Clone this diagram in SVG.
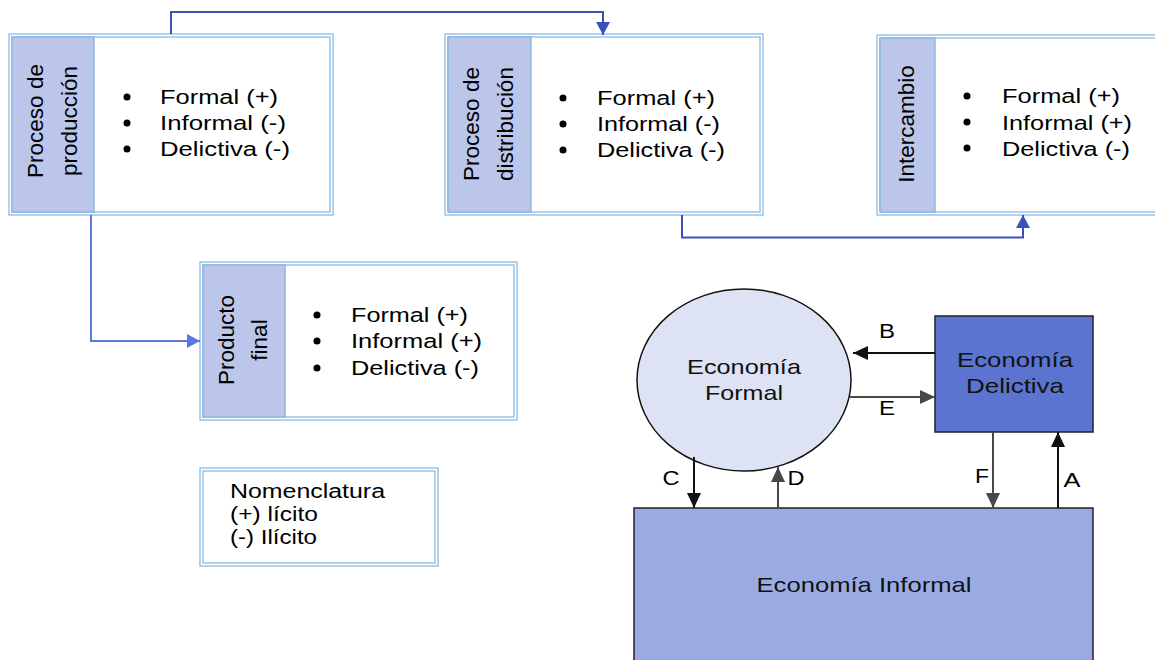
<svg xmlns="http://www.w3.org/2000/svg" width="1155" height="660" viewBox="0 0 1155 660">
<style>
text{font-family:"Liberation Sans",Arial,sans-serif;fill:#000}
.bt{font-size:20.5px}
.vt{font-size:22.5px;text-anchor:middle}
.nom{font-size:19.5px}
.lab{font-size:20px;text-anchor:middle}
.eco{font-size:21px;text-anchor:middle;fill:#111}
.outer{fill:none;stroke:#9dc3e6;stroke-width:1.5}
.inner{fill:#fff;stroke:#9dc3e6;stroke-width:1.5}
.panel{fill:#bcc6ea;stroke:#8fb6e0;stroke-width:1.5}
.blue{fill:none;stroke:#3b50b8;stroke-width:2}
.blue2{fill:none;stroke:#5a78da;stroke-width:2}
.blk{fill:none;stroke:#111;stroke-width:2}
.gry{fill:none;stroke:#484848;stroke-width:2}
</style>
<defs>
<marker id="mb" markerUnits="userSpaceOnUse" markerWidth="14" markerHeight="14" refX="13" refY="7" orient="auto"><path d="M0,0 L13,7 L0,14 z" fill="#3b50b8"/></marker>
<marker id="mb2" markerUnits="userSpaceOnUse" markerWidth="14" markerHeight="14" refX="13" refY="7" orient="auto"><path d="M0,0 L13,7 L0,14 z" fill="#5a78da"/></marker>
<marker id="mk" markerUnits="userSpaceOnUse" markerWidth="15" markerHeight="14" refX="15" refY="7" orient="auto"><path d="M0,0 L15,7 L0,14 z" fill="#111"/></marker>
<marker id="mg" markerUnits="userSpaceOnUse" markerWidth="15" markerHeight="14" refX="15" refY="7" orient="auto"><path d="M0,0 L15,7 L0,14 z" fill="#484848"/></marker>
</defs>

<g id="produccion">
<rect class="outer" x="9" y="34" width="324" height="181"/>
<rect class="inner" x="12" y="37" width="318" height="175"/>
<rect class="panel" x="12" y="37" width="82" height="175"/>
<text class="vt" transform="translate(43,121) rotate(-90)">Proceso de</text>
<text class="vt" transform="translate(77,121) rotate(-90)">producción</text>
<circle cx="127" cy="97" r="3.5"/><circle cx="127" cy="123" r="3.5"/><circle cx="127" cy="149" r="3.5"/>
<text class="bt" x="160" y="104" textLength="118" lengthAdjust="spacingAndGlyphs">Formal (+)</text>
<text class="bt" x="160" y="130" textLength="126" lengthAdjust="spacingAndGlyphs">Informal (-)</text>
<text class="bt" x="160" y="156" textLength="130" lengthAdjust="spacingAndGlyphs">Delictiva (-)</text>
</g>

<g id="distribucion">
<rect class="outer" x="445" y="34" width="318" height="181"/>
<rect class="inner" x="448" y="37" width="312" height="175"/>
<rect class="panel" x="448" y="37" width="83" height="175"/>
<text class="vt" transform="translate(479,124) rotate(-90)">Proceso de</text>
<text class="vt" transform="translate(513,124) rotate(-90)">distribución</text>
<circle cx="563" cy="98" r="3.5"/><circle cx="563" cy="124" r="3.5"/><circle cx="563" cy="150" r="3.5"/>
<text class="bt" x="597" y="105" textLength="118" lengthAdjust="spacingAndGlyphs">Formal (+)</text>
<text class="bt" x="597" y="131" textLength="123" lengthAdjust="spacingAndGlyphs">Informal (-)</text>
<text class="bt" x="597" y="157" textLength="128" lengthAdjust="spacingAndGlyphs">Delictiva (-)</text>
</g>

<g id="intercambio">
<rect class="outer" x="877" y="35" width="290" height="180"/>
<rect class="inner" x="880" y="38" width="284" height="174"/>
<rect class="panel" x="880" y="38" width="55" height="174"/>
<text class="vt" transform="translate(914,124) rotate(-90)">Intercambio</text>
<circle cx="967" cy="96" r="3.5"/><circle cx="967" cy="122" r="3.5"/><circle cx="967" cy="148" r="3.5"/>
<text class="bt" x="1002" y="103" textLength="118" lengthAdjust="spacingAndGlyphs">Formal (+)</text>
<text class="bt" x="1002" y="130" textLength="130" lengthAdjust="spacingAndGlyphs">Informal (+)</text>
<text class="bt" x="1002" y="156" textLength="128" lengthAdjust="spacingAndGlyphs">Delictiva (-)</text>
</g>

<g id="producto_final">
<rect class="outer" x="200" y="262" width="317" height="158"/>
<rect class="inner" x="203" y="265" width="311" height="152"/>
<rect class="panel" x="203" y="265" width="82" height="152"/>
<text class="vt" transform="translate(234,340) rotate(-90)">Producto</text>
<text class="vt" transform="translate(267,340) rotate(-90)">final</text>
<circle cx="317" cy="315" r="3.5"/><circle cx="317" cy="341" r="3.5"/><circle cx="317" cy="368" r="3.5"/>
<text class="bt" x="351" y="322" textLength="117" lengthAdjust="spacingAndGlyphs">Formal (+)</text>
<text class="bt" x="351" y="348" textLength="131" lengthAdjust="spacingAndGlyphs">Informal (+)</text>
<text class="bt" x="351" y="375" textLength="128" lengthAdjust="spacingAndGlyphs">Delictiva (-)</text>
</g>

<g id="nomenclatura">
<rect class="outer" x="200" y="468" width="238" height="98"/>
<rect class="inner" x="203" y="471" width="232" height="92"/>
<text class="nom" x="230" y="498" textLength="155" lengthAdjust="spacingAndGlyphs">Nomenclatura</text>
<text class="nom" x="230" y="521" textLength="88" lengthAdjust="spacingAndGlyphs">(+) lícito</text>
<text class="nom" x="230" y="544" textLength="87" lengthAdjust="spacingAndGlyphs">(-) Ilícito</text>
</g>

<g id="economia_formal">
<ellipse cx="744" cy="380" rx="107" ry="91" fill="#dde3f5" stroke="#111" stroke-width="1.5"/>
<text class="eco" x="744" y="374" textLength="114" lengthAdjust="spacingAndGlyphs">Economía</text>
<text class="eco" x="744" y="400" textLength="78" lengthAdjust="spacingAndGlyphs">Formal</text>
</g>

<g id="economia_delictiva">
<rect x="935" y="316" width="158" height="116" fill="#5a74d0" stroke="#222" stroke-width="1.5"/>
<text class="eco" x="1015" y="367" textLength="116" lengthAdjust="spacingAndGlyphs">Economía</text>
<text class="eco" x="1015" y="393" textLength="98" lengthAdjust="spacingAndGlyphs">Delictiva</text>
</g>

<g id="economia_informal">
<rect x="634" y="508" width="459" height="160" fill="#9aabe4" stroke="#222" stroke-width="1.5"/>
<text class="eco" x="864" y="592" textLength="215" lengthAdjust="spacingAndGlyphs">Economía Informal</text>
</g>

<g id="connectors">
<path class="blue" d="M171,34 V12 H603 V35" marker-end="url(#mb)"/>
<path class="blue" d="M682,215 V237.5 H1023 V215" marker-end="url(#mb)"/>
<path class="blue2" d="M91,215 V341 H200" marker-end="url(#mb2)"/>
<path class="blk" d="M935,353 H853" marker-end="url(#mk)"/>
<path class="gry" d="M850,397 H935" marker-end="url(#mg)"/>
<path class="blk" d="M694,457 V508" marker-end="url(#mk)"/>
<path class="gry" d="M778,508 V467" marker-end="url(#mg)"/>
<path class="gry" d="M993,432 V508" marker-end="url(#mg)"/>
<path class="blk" d="M1058,508 V432" marker-end="url(#mk)"/>
<text class="lab" x="887" y="338" textLength="16" lengthAdjust="spacingAndGlyphs">B</text>
<text class="lab" x="887" y="415" textLength="16" lengthAdjust="spacingAndGlyphs">E</text>
<text class="lab" x="671" y="485" textLength="17" lengthAdjust="spacingAndGlyphs">C</text>
<text class="lab" x="796" y="485" textLength="17" lengthAdjust="spacingAndGlyphs">D</text>
<text class="lab" x="982" y="483" textLength="14" lengthAdjust="spacingAndGlyphs">F</text>
<text class="lab" x="1072" y="487" textLength="17" lengthAdjust="spacingAndGlyphs">A</text>
</g>
</svg>
